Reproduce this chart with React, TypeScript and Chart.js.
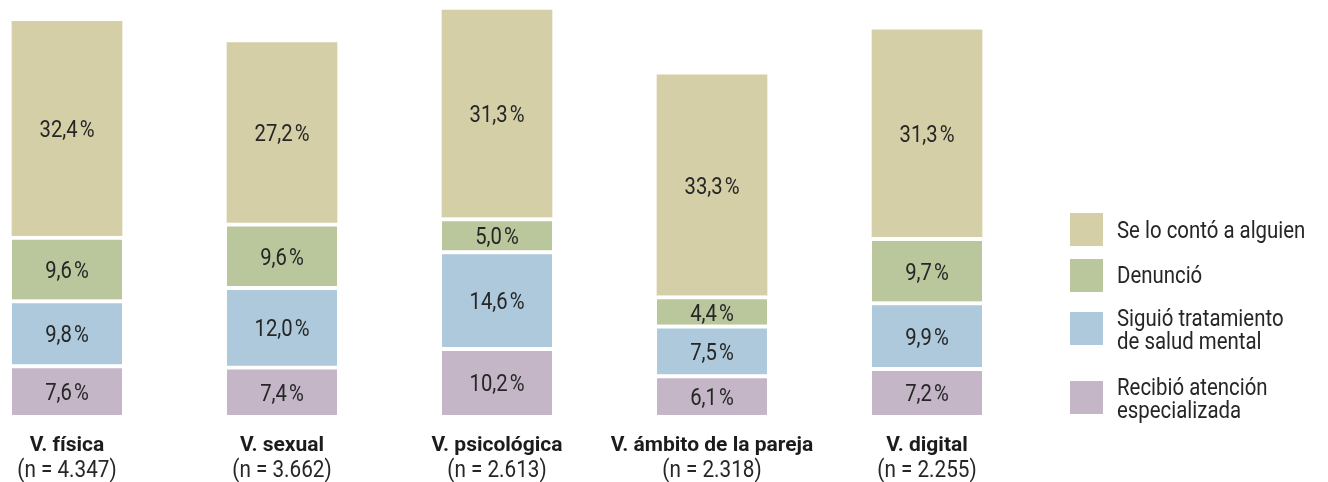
import React, { useEffect, useRef } from "react";
import { Chart, registerables } from "chart.js";

Chart.register(...registerables);

const categories = ["V. física", "V. sexual", "V. psicológica", "V. ámbito de la pareja", "V. digital"];
const sampleSizes = ["(n = 4.347)", "(n = 3.662)", "(n = 2.613)", "(n = 2.318)", "(n = 2.255)"];
const recibioAtencion = [7.6, 7.4, 10.2, 6.1, 7.2];
const siguioTratamiento = [9.8, 12.0, 14.6, 7.5, 9.9];
const denuncio = [9.6, 9.6, 5.0, 4.4, 9.7];
const seLoConto = [32.4, 27.2, 31.3, 33.3, 31.3];

const seriesNames = ["Recibió atención especializada", "Siguió tratamiento de salud mental", "Denunció", "Se lo contó a alguien"];
const legendLines = [
  ["Se lo contó a alguien"],
  ["Denunció"],
  ["Siguió tratamiento", "de salud mental"],
  ["Recibió atención", "especializada"],
];
const colors = ["#c4b6c7", "#adc9db", "#bac69c", "#d5cfa8"];

const FONT = "Roboto, 'Noto Sans', sans-serif";

const fmt = (v: number) => v.toFixed(1).replace(".", ",") + "\u200A%";

function drawText(ctx: CanvasRenderingContext2D, text: string, x: number, y: number, size: number, weight: number, sx: number, align: CanvasTextAlign, color: string) {
  ctx.save();
  ctx.translate(x, y);
  ctx.scale(sx, 1);
  ctx.font = `${weight} ${size}px ${FONT}`;
  ctx.textAlign = align;
  ctx.textBaseline = "alphabetic";
  ctx.fillStyle = color;
  ctx.fillText(text, 0, 0);
  ctx.restore();
}

export default function App() {
  const ref = useRef<HTMLCanvasElement>(null);
  useEffect(() => {
    const canvas = ref.current!;
    const labelsPlugin = {
      id: "labelsPlugin",
      afterDatasetsDraw(chart: any) {
        const ctx = chart.ctx;
        chart.data.datasets.forEach((ds: any, di: number) => {
          const meta = chart.getDatasetMeta(di);
          const gap = di < 3 ? 4 : 0;
          meta.data.forEach((el: any, i: number) => {
            const top = el.y + gap;
            const cy = (top + el.base) / 2;
            drawText(ctx, fmt(ds.data[i]), el.x, cy + 8.3, 23, 400, 0.88, "center", "#262626");
          });
        });
        const meta0 = chart.getDatasetMeta(0);
        meta0.data.forEach((el: any, i: number) => {
          drawText(ctx, categories[i], el.x, 442.7, 21, 700, 1, "center", "#1c1c1c");
          drawText(ctx, sampleSizes[i], el.x, 468.5, 23, 400, 0.9, "center", "#262626");
        });
        const swX = 1062;
        const tops = [205, 251, 304, 373];
        const baselines = [[230.3], [275], [318, 341], [387, 410]];
        legendLines.forEach((lines, k) => {
          ctx.fillStyle = colors[3 - k];
          ctx.fillRect(swX, tops[k], 33, 33);
          lines.forEach((line, j) => {
            drawText(ctx, line, 1109, baselines[k][j], 24, 400, 0.85, "left", "#262626");
          });
        });
      },
    };
    const mk = (label: string, data: number[], idx: number) => ({
      label,
      data,
      backgroundColor: colors[idx],
      borderColor: "#ffffff",
      borderWidth: idx < 3 ? { top: 4, bottom: 0, left: 0, right: 0 } : 0,
      borderSkipped: false,
      barThickness: 110,
      clip: false,
    });
    const chart = new Chart(canvas, {
      type: "bar",
      data: {
        labels: categories,
        datasets: [
          mk(seriesNames[0], recibioAtencion, 0),
          mk(seriesNames[1], siguioTratamiento, 1),
          mk(seriesNames[2], denuncio, 2),
          mk(seriesNames[3], seLoConto, 3),
        ] as any,
      },
      options: {
        animation: false,
        responsive: false,
        devicePixelRatio: 1,
        layout: { padding: { left: 59, right: 393, top: 0, bottom: 67 } },
        plugins: { legend: { display: false }, tooltip: { enabled: false } },
        scales: {
          x: { stacked: true, display: false, offset: false },
          y: { stacked: true, display: false, min: 0, max: 61.4 },
        },
      },
      plugins: [labelsPlugin],
    });
    return () => chart.destroy();
  }, []);
  return <canvas ref={ref} width={1312} height={474} style={{ display: "block" }} />;
}
